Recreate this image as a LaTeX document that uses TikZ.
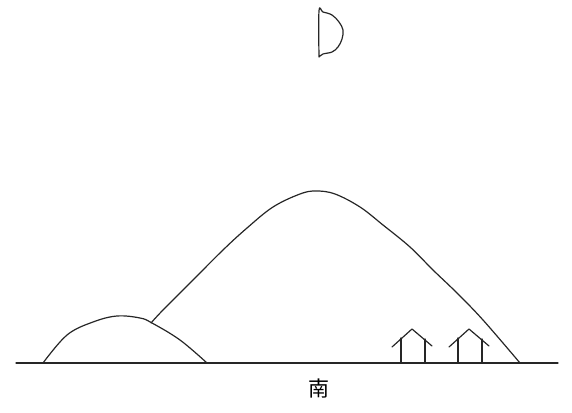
\documentclass[tikz,border=0pt]{standalone}
\usepackage{fontspec}
\newfontfamily\cjk{Noto Sans CJK SC}
\begin{document}
\begin{tikzpicture}[x=1pt,y=-1pt,
  ink/.style={line width=1.2pt,black!85,line join=round,line cap=round},
  label/.style={font=\cjk\fontsize{21}{21}\selectfont,inner sep=0pt}]
\useasboundingbox (0,0) rectangle (572,412);
% ground
\coordinate (gl) at (16,363);
\coordinate (gr) at (558,363);
\draw[ink] (gl) -- (gr);
% small hill
\draw[ink] plot[smooth,tension=0.6] coordinates {(43,363) (67,335) (93,322) (117,316) (140,318) (152,323) (180,340) (207,363)};
% large mountain, rising from the small hill
\draw[ink] plot[smooth,tension=0.6] coordinates {(151,323) (163,310) (193,280) (223,250) (247,228) (273,207) (300,194) (316,191) (335,194) (360,207) (383,225) (410,247) (433,270) (457,293) (483,320) (520,363)};
% moon
\draw[ink] plot[smooth,tension=0.6] coordinates {(319,57) (319,11) (323,12) (332,15) (339,22) (343,30) (342,39) (338,47) (332,52) (323,54) (319,57)};
% houses
\foreach \hx/\hn in {412/a,469/b}{
  \coordinate (\hn peak) at (\hx,329);
  \coordinate (\hn roofl) at (\hx-20,347);
  \coordinate (\hn roofr) at (\hx+20,346);
  \draw[ink] (\hn roofl) -- (\hn peak) -- (\hn roofr);
  \draw[ink] (\hx-11,338) -- (\hx-11,363);
  \draw[ink] (\hx+13,339) -- (\hx+13,363);
}
% direction label
\node[label] (south) at (319,389) {南};
\end{tikzpicture}
\end{document}
